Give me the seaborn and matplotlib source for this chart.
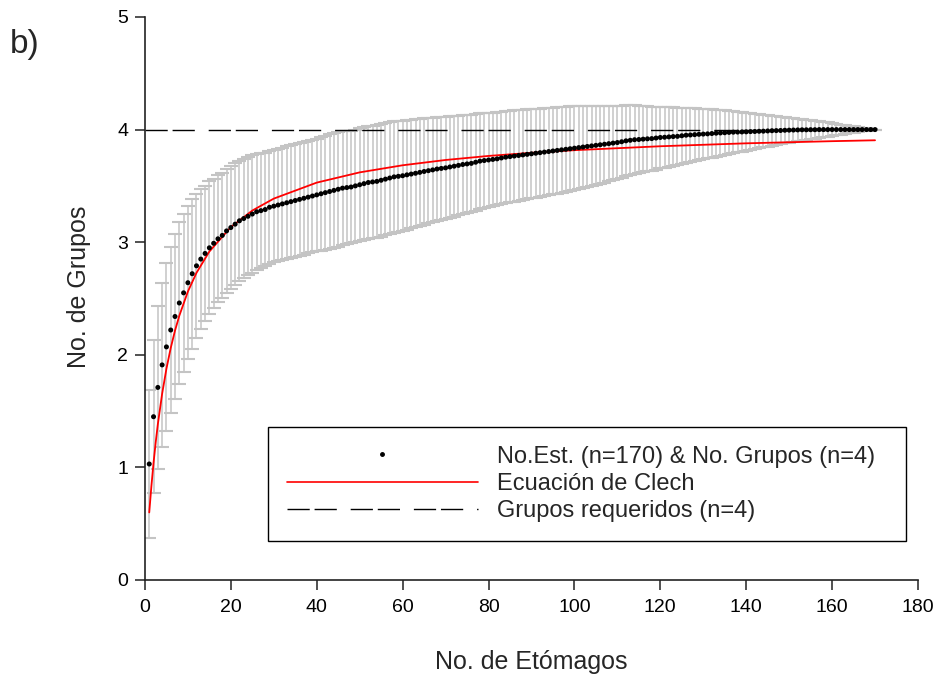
import matplotlib
matplotlib.use("Agg")
import matplotlib.pyplot as plt
from matplotlib.lines import Line2D
import numpy as np
import pandas as pd
import seaborn as sns

# ---------------- data ----------------
estomagos = list(range(1, 171))

grupos_media = [
    1.03, 1.45, 1.71, 1.91, 2.07, 2.22, 2.34, 2.46, 2.55, 2.64,
    2.72, 2.79, 2.85, 2.90, 2.95, 2.99, 3.03, 3.06, 3.10, 3.13,
    3.16, 3.19, 3.21, 3.23, 3.25, 3.27, 3.28, 3.29, 3.31, 3.32,
    3.33, 3.34, 3.35, 3.36, 3.37, 3.38, 3.39, 3.40, 3.41, 3.42,
    3.43, 3.44, 3.45, 3.46, 3.47, 3.48, 3.485, 3.49, 3.50, 3.51,
    3.52, 3.53, 3.535, 3.54, 3.55, 3.56, 3.57, 3.58, 3.585, 3.59,
    3.598, 3.605, 3.612, 3.62, 3.628, 3.635, 3.642, 3.65, 3.655, 3.66,
    3.668, 3.675, 3.682, 3.69, 3.695, 3.70, 3.71, 3.72, 3.725, 3.73,
    3.735, 3.74, 3.748, 3.755, 3.76, 3.765, 3.77, 3.775, 3.78, 3.785,
    3.79, 3.795, 3.80, 3.805, 3.81, 3.815, 3.82, 3.825, 3.83, 3.835,
    3.84, 3.845, 3.85, 3.855, 3.86, 3.865, 3.87, 3.875, 3.88, 3.885,
    3.892, 3.90, 3.905, 3.91, 3.912, 3.915, 3.918, 3.92, 3.925, 3.93,
    3.932, 3.935, 3.938, 3.94, 3.945, 3.95, 3.952, 3.955, 3.958, 3.96,
    3.962, 3.965, 3.968, 3.97, 3.972, 3.975, 3.977, 3.978, 3.979, 3.98,
    3.982, 3.983, 3.985, 3.986, 3.988, 3.99, 3.991, 3.992, 3.994, 3.995,
    3.996, 3.997, 3.998, 3.998, 3.999, 3.999, 4.0, 4.0, 4.0, 4.0,
    4.0, 4.0, 4.0, 4.0, 4.0, 4.0, 4.0, 4.0, 4.0, 4.0,
]

grupos_de = [
    0.66, 0.68, 0.72, 0.73, 0.745, 0.74, 0.735, 0.72, 0.70, 0.68,
    0.665, 0.64, 0.62, 0.60, 0.59, 0.575, 0.565, 0.555, 0.55, 0.545,
    0.54, 0.535, 0.53, 0.525, 0.52, 0.515, 0.51, 0.505, 0.50, 0.50,
    0.50, 0.50, 0.50, 0.50, 0.50, 0.50, 0.50, 0.50, 0.50, 0.50,
    0.505, 0.505, 0.51, 0.51, 0.51, 0.505, 0.505, 0.50, 0.50, 0.50,
    0.50, 0.50, 0.50, 0.50, 0.50, 0.50, 0.50, 0.50, 0.495, 0.49,
    0.487, 0.483, 0.48, 0.476, 0.472, 0.468, 0.465, 0.461, 0.458, 0.454,
    0.45, 0.447, 0.443, 0.44, 0.436, 0.433, 0.43, 0.426, 0.422, 0.419,
    0.416, 0.413, 0.41, 0.408, 0.406, 0.405, 0.403, 0.401, 0.399, 0.397,
    0.395, 0.392, 0.39, 0.388, 0.386, 0.384, 0.382, 0.38, 0.378, 0.375,
    0.37, 0.365, 0.36, 0.355, 0.35, 0.345, 0.34, 0.335, 0.33, 0.325,
    0.32, 0.315, 0.31, 0.305, 0.30, 0.295, 0.29, 0.285, 0.28, 0.275,
    0.27, 0.265, 0.26, 0.255, 0.25, 0.245, 0.24, 0.235, 0.228, 0.222,
    0.218, 0.214, 0.21, 0.204, 0.198, 0.192, 0.186, 0.18, 0.174, 0.168,
    0.162, 0.156, 0.15, 0.145, 0.14, 0.134, 0.128, 0.123, 0.117, 0.112,
    0.106, 0.101, 0.095, 0.09, 0.085, 0.08, 0.075, 0.069, 0.063, 0.057,
    0.051, 0.045, 0.04, 0.034, 0.028, 0.023, 0.017, 0.011, 0.006, 0.0,
]

clech_x = [1, 1.5, 2, 2.5, 3, 4, 5, 6, 7, 8, 10, 12, 15, 20, 25, 30, 40,
           50, 60, 70, 80, 90, 100, 120, 140, 160, 170]
clech_y = [0.60, 0.834, 1.04, 1.222, 1.383, 1.654, 1.876, 2.06, 2.215, 2.347,
           2.562, 2.728, 2.917, 3.134, 3.281, 3.387, 3.529, 3.62, 3.683, 3.73,
           3.766, 3.794, 3.817, 3.852, 3.878, 3.897, 3.905]

requeridos_x = [0, 170]
requeridos_y = [4, 4]

x_ticks = [0, 20, 40, 60, 80, 100, 120, 140, 160, 180]
y_ticks = [0, 1, 2, 3, 4, 5]

lbl_puntos = "No.Est. (n=170) & No. Grupos (n=4)"
lbl_clech = "Ecuación de Clech"
lbl_req = "Grupos requeridos (n=4)"

# ---------------- plot ----------------
sns.set_theme(style="ticks")
plt.rcParams["font.family"] = ["Liberation Sans", "DejaVu Sans"]

df = pd.DataFrame({"x": estomagos, "y": grupos_media, "sd": grupos_de})
df_clech = pd.DataFrame({"x": clech_x, "y": clech_y})
df_req = pd.DataFrame({"x": requeridos_x, "y": requeridos_y})

fig = plt.figure(figsize=(9.37, 6.74), dpi=100)
ax = fig.add_axes([0.1547, 0.1395, 0.8250, 0.8353])

ax.errorbar(df["x"], df["y"], yerr=df["sd"], fmt="none", ecolor="#c4c4c4",
            elinewidth=1.1, capsize=5.2, capthick=1.5, zorder=1)

sns.lineplot(data=df_req, x="x", y="y", ax=ax, color="black", linewidth=1.0,
             dashes=False, zorder=2, legend=False)
ax.lines[-1].set_dashes((16, 3.5, 16, 10))

sns.lineplot(data=df_clech, x="x", y="y", ax=ax, color="#ff0000",
             linewidth=1.3, zorder=3, legend=False, sort=False, estimator=None)

sns.scatterplot(data=df, x="x", y="y", ax=ax, color="black", s=13,
                edgecolor="none", zorder=4, legend=False)

ax.set_xlim(0, 180)
ax.set_ylim(0, 5)
ax.set_xticks(x_ticks)
ax.set_yticks(y_ticks)
ax.set_xticklabels([str(t) for t in x_ticks])
ax.set_yticklabels([str(t) for t in y_ticks])
ax.tick_params(axis="both", direction="out", length=7, width=1.1,
               labelsize=14, color="#222222", labelcolor="black")
ax.tick_params(axis="x", pad=7)
ax.tick_params(axis="y", pad=5)
for side in ["top", "right"]:
    ax.spines[side].set_visible(False)
for side in ["left", "bottom"]:
    ax.spines[side].set_linewidth(1.2)
    ax.spines[side].set_color("#222222")

ax.set_xlabel("No. de Etómagos", fontsize=18, labelpad=24)
ax.set_ylabel("No. de Grupos", fontsize=18)
ax.yaxis.set_label_coords(-0.07, 0.52)
ax.grid(False)

fig.text(0.010, 0.922, "b)", fontsize=24)

h_pts = Line2D([], [], color="black", marker="o", linestyle="none",
               markersize=2.5)
h_clech = Line2D([], [], color="#ff0000", linewidth=1.2)
h_req = Line2D([], [], color="black", linewidth=1.0, dashes=(16, 3.5, 16, 10))
leg = ax.legend([h_pts, h_clech, h_req], [lbl_puntos, lbl_clech, lbl_req],
                loc="upper left", bbox_to_anchor=(0.159, 0.0, 0.825, 0.272),
                mode="expand", fontsize=17, handlelength=8.1,
                handletextpad=0.8, labelspacing=0.22, borderpad=0.8,
                borderaxespad=0.0, frameon=True, fancybox=False,
                numpoints=1)
leg.get_frame().set_edgecolor("black")
leg.get_frame().set_linewidth(1.0)
leg.get_frame().set_facecolor("white")
leg.get_frame().set_alpha(1.0)

fig.savefig("out.png", dpi=100, facecolor="white")
